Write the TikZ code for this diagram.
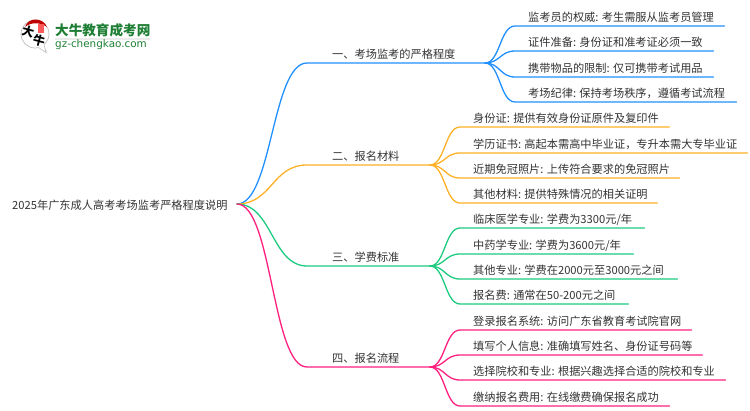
\documentclass[tikz,border=0pt]{standalone}
\usepackage{fontspec}
\setmainfont{Noto Sans CJK SC}[Scale=1]
\newfontfamily\latinlogo{DejaVu Sans}
\definecolor{bluec}{HTML}{2090FF}
\definecolor{orangec}{HTML}{FFB126}
\definecolor{greenc}{HTML}{1CCB7F}
\definecolor{pinkc}{HTML}{FF1F7F}
\definecolor{txt}{HTML}{333333}
\definecolor{logog}{HTML}{1E7E34}
\tikzset{
  textbase/.style={text=txt,font=\fontsize{11.2}{13}\selectfont,inner sep=0pt},
  leafbox/.style={textbase,anchor=south west,text height=9pt,text depth=2pt,inner ysep=2.7pt},
  link/.style={line width=1.3pt,line cap=round},
}
\newcommand{\leafnode}[6]{% name, hub, x, y, width, text
  \node[leafbox] (#1) at (#3,#4) {\makebox[#5pt][l]{\hspace{13pt}#6}};
  \draw[link] (#2) .. controls ($(#2)+(15,0)$) and ($(#1.south west)+(-15,0)$) .. (#1.south west) -- (#1.south east);
}
\usetikzlibrary{calc}
\begin{document}
\begin{tikzpicture}[x=1pt,y=-1pt]
\useasboundingbox (0,0) rectangle (750,410);
% logo
\fill[black!10] (40,48) -- (48,54) -- (44,45) -- cycle;
\draw[black!25,line width=0.7pt,fill=white] (35,34) circle (14);
\fill[white] (38,47) -- (46,52.5) -- (44,44) -- cycle;
\draw[black!25,line width=0.6pt] (38.5,47.5) -- (46,52.5) -- (44,45);
\fill[red!75!black] (25,27) .. controls (28,17) and (43,17) .. (47,27) .. controls (40,22) and (31,22) .. (25,27) -- cycle;
\fill[red!65!white] (38,24) rectangle (44,33);
\node[inner sep=0pt,font=\fontsize{12}{12}\selectfont\bfseries,text=black,rotate=-15] (logoa) at (28,32) {大};
\node[inner sep=0pt,font=\fontsize{12}{12}\selectfont\bfseries,text=black,rotate=-15] (logob) at (39,41) {牛};
\node[inner sep=0pt,font=\fontsize{13.6}{14}\selectfont\bfseries,text=logog,anchor=west] (logot) at (55,30) {大牛教育成考网};
\fill[black!8] (55,38) rectangle (150,39.5);
\node[inner sep=0pt,font=\latinlogo\fontsize{10.4}{11}\selectfont,text=logog,anchor=west] (logou) at (55,45) {gz-chengkao.com};
% root
\node[textbase,anchor=west] (root) at (12,205) {2025年广东成人高考考场监考严格程度说明};
\coordinate (rootout) at (237,204);
% branches
\foreach \n/\y/\hx/\c/\t in {b1/63/485/bluec/一、考场监考的严格程度,b2/165/430/orangec/二、报名材料,b3/266/430/greenc/三、学费标准,b4/367/430/pinkc/四、报名流程}{
  \coordinate (\n s) at (307,\y);
  \coordinate (\n h) at (\hx,\y);
  \node[textbase,anchor=west] (\n) at (332,\y-9) {\t};
  \draw[link,\c] (rootout) .. controls ($(rootout)+(35,0)$) and ($(\n s)+(-35,0)$) .. (\n s) -- (\n h);
}
% leaves
\begin{scope}
\tikzset{link/.append style={bluec}}
\leafnode{a1}{b1h}{515}{26}{209}{监考员的权威: 考生需服从监考员管理}
\leafnode{a2}{b1h}{515}{51}{198}{证件准备: 身份证和准考证必须一致}
\leafnode{a3}{b1h}{515}{77}{198}{携带物品的限制: 仅可携带考试用品}
\leafnode{a4}{b1h}{515}{102}{221}{考场纪律: 保持考场秩序，遵循考试流程}
\end{scope}
\begin{scope}
\tikzset{link/.append style={orangec}}
\leafnode{c1}{b2h}{460}{127}{209}{身份证: 提供有效身份证原件及复印件}
\leafnode{c2}{b2h}{460}{153}{287}{学历证书: 高起本需高中毕业证，专升本需大专毕业证}
\leafnode{c3}{b2h}{460}{178}{219}{近期免冠照片: 上传符合要求的免冠照片}
\leafnode{c4}{b2h}{460}{203}{197}{其他材料: 提供特殊情况的相关证明}
\end{scope}
\begin{scope}
\tikzset{link/.append style={greenc}}
\leafnode{d1}{b3h}{460}{228}{184}{临床医学专业: 学费为3300元/年}
\leafnode{d2}{b3h}{460}{254}{173}{中药学专业: 学费为3600元/年}
\leafnode{d3}{b3h}{460}{279}{217}{其他专业: 学费在2000元至3000元之间}
\leafnode{d4}{b3h}{460}{304}{168}{报名费: 通常在50-200元之间}
\end{scope}
\begin{scope}
\tikzset{link/.append style={pinkc}}
\leafnode{e1}{b4h}{460}{330}{231}{登录报名系统: 访问广东省教育考试院官网}
\leafnode{e2}{b4h}{460}{355}{242}{填写个人信息: 准确填写姓名、身份证号码等}
\leafnode{e3}{b4h}{460}{380}{265}{选择院校和专业: 根据兴趣选择合适的院校和专业}
\leafnode{e4}{b4h}{460}{406}{209}{缴纳报名费用: 在线缴费确保报名成功}
\end{scope}
\end{tikzpicture}
\end{document}
